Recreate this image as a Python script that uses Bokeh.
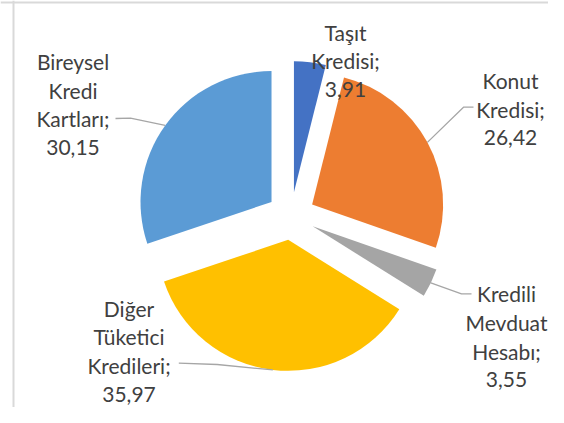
import math
from bokeh.plotting import figure
from bokeh.models import ColumnDataSource, Range1d, Span
from bokeh.core.properties import value
from bokeh.embed import file_html
from bokeh.resources import INLINE

# ---- data ----
categories = ["Taşıt Kredisi;", "Konut Kredisi;", "Kredili Mevduat Hesabı;",
              "Diğer Tüketici Kredileri;", "Bireysel Kredi Kartları;"]
shares = [3.91, 26.42, 3.55, 35.97, 30.15]
colors = ["#4472C4", "#ED7D31", "#A5A5A5", "#FFC000", "#5B9BD5"]

# ---- layout / style (picture pixel positions, origin top-left) ----
W, H = 548, 407
center_px = (290.5, 215.5)
radius = 131
explode = 24
label_cx = [345, 510, 506, 128.5, 72.5]             # label centre x
label_base = [31.7, 80, 293.3, 307.5, 61]           # first baseline y
line_step = 28.7
leader_pts = [None,
              [(473, 106.7), (463, 106.7)],
              [(471, 293.3), (461, 293.3)],
              [(178.3, 362.7), (216.7, 364)],
              [(115, 118), (130, 117.7)]]


def ypx(y):
    return H - y


p = figure(width=W, height=H, x_range=Range1d(0, W), y_range=Range1d(0, H),
           output_backend="svg", toolbar_location=None, min_border=0)
p.axis.visible = False
p.grid.visible = False
p.outline_line_color = None
p.background_fill_color = "white"

# chart border
p.add_layout(Span(location=13, dimension="height", line_color="#D9D9D9", line_width=2))
p.add_layout(Span(location=ypx(2), dimension="width", line_color="#D9D9D9", line_width=2))

total = sum(shares)
cx, cy = center_px[0], ypx(center_px[1])
xs, ys, starts, ends, mids = [], [], [], [], []
cum = 0.0
for s in shares:
    a0 = cum / total * 360.0
    cum += s
    a1 = cum / total * 360.0
    st = math.radians(90 - a1)
    en = math.radians(90 - a0)
    mid = (st + en) / 2
    xs.append(cx + explode * math.cos(mid))
    ys.append(cy + explode * math.sin(mid))
    starts.append(st)
    ends.append(en)
    mids.append(mid)

src = ColumnDataSource(dict(x=xs, y=ys, start=starts, end=ends, color=colors))
p.wedge(x="x", y="y", radius=radius, start_angle="start", end_angle="end",
        fill_color="color", line_color=None, source=src)

# leader lines
lx, ly = [], []
for i, pts in enumerate(leader_pts):
    if pts is None:
        continue
    ax = xs[i] + radius * math.cos(mids[i])
    ay = ys[i] + radius * math.sin(mids[i])
    lx.append([pts[0][0], pts[1][0], ax])
    ly.append([ypx(pts[0][1]), ypx(pts[1][1]), ay])
p.multi_line(xs=lx, ys=ly, line_color="#A6A6A6", line_width=1.3)

# labels
tx, ty, tt = [], [], []
for i, (name, v) in enumerate(zip(categories, shares)):
    lines = name.split() + [f"{v:.2f}".replace(".", ",")]
    for k, ln in enumerate(lines):
        tx.append(label_cx[i])
        ty.append(ypx(label_base[i] + k * line_step))
        tt.append(ln)
p.text(x=tx, y=ty, text=tt, text_font=value("Lato"), text_font_size="21px",
       text_color="#404040", text_align="center", text_baseline="alphabetic")

open("out.html", "w").write(file_html(p, INLINE))
